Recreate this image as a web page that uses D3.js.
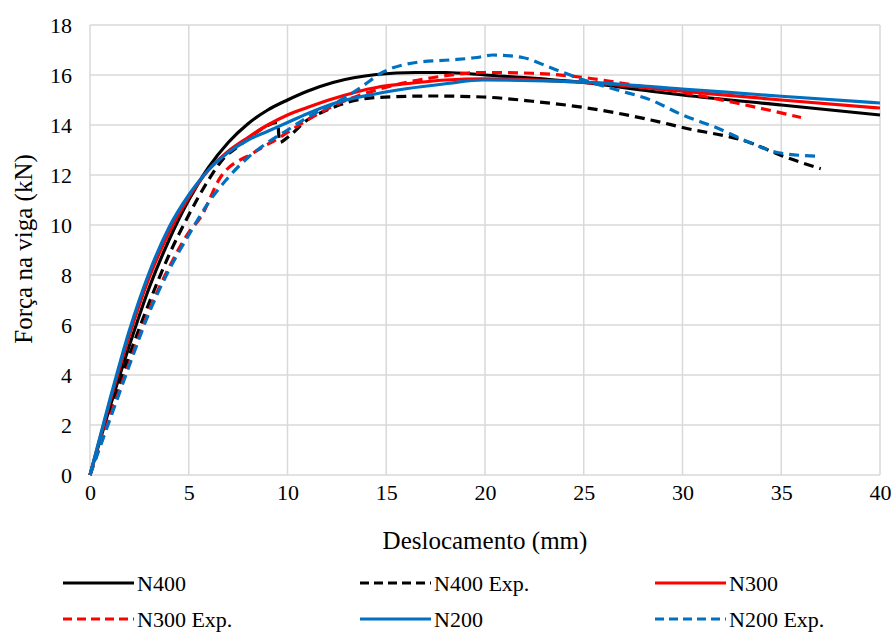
<!DOCTYPE html>
<html>
<head>
<meta charset="utf-8">
<script src="https://cdn.jsdelivr.net/npm/d3@7"></script>
<style>
  body { margin: 0; background: #fff; }
  svg { display: block; }
</style>
</head>
<body>
<svg id="chart" width="894" height="633"></svg>
<script>
// ---- data (x: deslocamento mm, y: força kN) ----
const xTicks = [0, 5, 10, 15, 20, 25, 30, 35, 40];
const yTicks = [0, 2, 4, 6, 8, 10, 12, 14, 16, 18];

const n400 = [[0,0],[1,2.7],[2,5.2],[3,7.5],[4,9.4],[5,11.0],[6,12.3],[7,13.3],[8,14.05],[9,14.6],[10,15.0],[11,15.35],[12.3,15.7],[14.5,16.02],[16.5,16.1],[18,16.1],[20,16.0],[25,15.7],[28.4,15.35],[30,15.2],[35,14.8],[40,14.4]];
const n400Exp = [[0,0],[1,2.5],[2,4.8],[3,6.9],[4,8.8],[5,10.4],[6,11.8],[6.7,12.6],[7.6,13.2],[8.6,13.8],[9.5,14.1],[9.6,13.3],[10,13.5],[11,14.2],[12,14.6],[13,14.9],[14.5,15.1],[17.4,15.16],[19.9,15.12],[22.4,14.95],[25,14.7],[28.4,14.2],[30,13.9],[33.4,13.3],[35.1,12.75],[37,12.25]];
const n300 = [[0,0],[1,2.9],[2,5.6],[3,7.9],[4,9.7],[5,11.1],[6,12.2],[7,12.95],[8,13.5],[9,14.0],[10,14.4],[11,14.7],[12.3,15.05],[14.5,15.5],[16,15.65],[18,15.8],[20,15.85],[25,15.7],[30,15.35],[35,15.0],[40,14.68]];
const n300Exp = [[0,0],[1,2.3],[2,4.5],[3,6.6],[4,8.3],[5,9.7],[5.6,10.3],[6.6,11.9],[8.3,12.9],[9.6,13.5],[11,14.2],[12.7,14.9],[14.5,15.4],[17.4,15.9],[19.9,16.1],[22.4,16.07],[25,15.9],[27.5,15.6],[30,15.3],[32.6,14.9],[36,14.3]];
const n200 = [[0,0],[1,3.0],[2,5.8],[3,8.1],[4,9.9],[5,11.2],[6,12.2],[7,12.9],[8,13.4],[9,13.75],[10,14.1],[11,14.45],[12.3,14.85],[14.5,15.25],[16,15.45],[18,15.65],[19.9,15.8],[25,15.72],[30,15.44],[35,15.15],[40,14.88]];
const n200Exp = [[0,0],[1,2.2],[2,4.4],[3,6.5],[4,8.2],[5,9.6],[6,10.9],[7,11.9],[8,12.7],[9,13.3],[10,13.8],[11,14.3],[12.7,15.0],[13.7,15.5],[14.8,16.1],[16.5,16.5],[18.2,16.6],[19.6,16.7],[20.4,16.8],[21.9,16.7],[23.3,16.3],[25,15.8],[26.7,15.4],[28.4,15.0],[30,14.4],[31.7,13.9],[33.4,13.3],[34.8,12.9],[36.8,12.75]];

const seriesNames = ["N400", "N400 Exp.", "N300", "N300 Exp.", "N200", "N200 Exp."];
const seriesData = [n400, n400Exp, n300, n300Exp, n200, n200Exp];
const seriesColors = ["#000000", "#000000", "#ff0000", "#ff0000", "#0070c0", "#0070c0"];
const seriesDashed = [false, true, false, true, false, true];

const FONT = "Liberation Serif, DejaVu Serif, serif";

// ---- layout ----
const svg = d3.select("#chart");
const margin = {left: 90, right: 14, top: 25, bottom: 158};
const W = 894, H = 633;
const x = d3.scaleLinear().domain([0, 40]).range([margin.left, W - margin.right]);
const y = d3.scaleLinear().domain([0, 18]).range([H - margin.bottom, margin.top]);

// gridlines
svg.append("g").selectAll("line").data(xTicks).join("line")
  .attr("x1", d => x(d)).attr("x2", d => x(d))
  .attr("y1", y(0)).attr("y2", y(18))
  .attr("stroke", "#d9d9d9").attr("stroke-width", 1.5);
svg.append("g").selectAll("line").data(yTicks).join("line")
  .attr("x1", x(0)).attr("x2", x(40))
  .attr("y1", d => y(d)).attr("y2", d => y(d))
  .attr("stroke", "#d9d9d9").attr("stroke-width", 1.5);

// axes (labels only)
const xAxis = d3.axisBottom(x).tickValues(xTicks).tickSize(0).tickPadding(9);
const gx = svg.append("g").attr("transform", `translate(0,${y(0)})`).call(xAxis);
gx.select(".domain").remove();
gx.attr("font-family", FONT).attr("font-size", 22);
gx.selectAll("text").attr("fill", "#000");

const yAxis = d3.axisLeft(y).tickValues(yTicks).tickSize(0).tickPadding(18);
const gy = svg.append("g").attr("transform", `translate(${x(0)},0)`).call(yAxis);
gy.select(".domain").remove();
gy.attr("font-family", FONT).attr("font-size", 22);
gy.selectAll("text").attr("fill", "#000");

// titles
svg.append("text").attr("x", 485).attr("y", 549)
  .attr("text-anchor", "middle").attr("font-family", FONT).attr("font-size", 25).text("Deslocamento (mm)");
svg.append("text").attr("transform", `translate(32,249) rotate(-90)`)
  .attr("text-anchor", "middle").attr("font-family", FONT).attr("font-size", 25).text("Força na viga (kN)");

// series
const line = d3.line().x(d => x(d[0])).y(d => y(d[1])).curve(d3.curveMonotoneX);
const gs = svg.append("g");
seriesData.forEach((data, i) => {
  gs.append("path").datum(data)
    .attr("d", line)
    .attr("fill", "none")
    .attr("stroke", seriesColors[i])
    .attr("stroke-width", 3.2)
    .attr("stroke-dasharray", seriesDashed[i] ? "10,6" : null)
    .attr("stroke-linejoin", "round");
});

// legend
const legendCols = [63, 360, 655];
const legendRows = [583, 619];
seriesNames.forEach((name, i) => {
  const col = i % 3, row = Math.floor(i / 3);
  const lx = legendCols[col], ly = legendRows[row];
  const g = svg.append("g");
  g.append("line").attr("x1", lx).attr("x2", lx + 71).attr("y1", ly).attr("y2", ly)
    .attr("stroke", seriesColors[i]).attr("stroke-width", 3.2)
    .attr("stroke-dasharray", seriesDashed[i] ? "9,5" : null);
  g.append("text").attr("x", lx + 74).attr("y", ly + 8)
    .attr("font-family", FONT).attr("font-size", 22).text(name);
});
</script>
</body>
</html>
